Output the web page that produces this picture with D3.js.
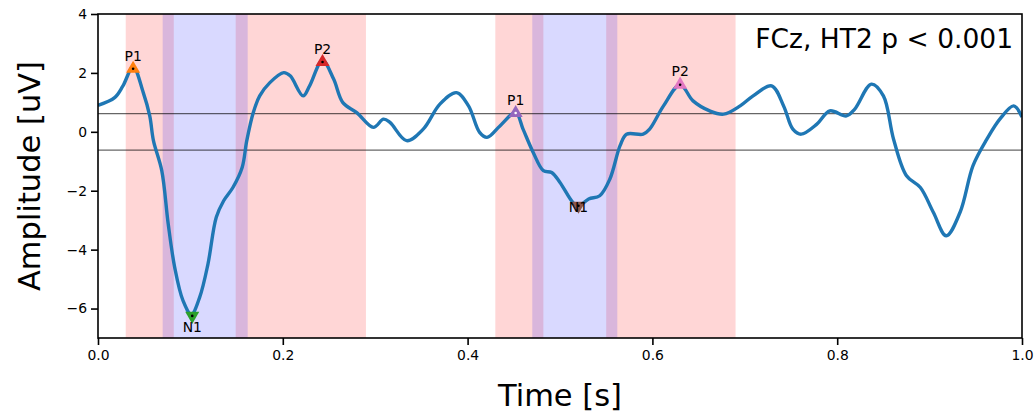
<!DOCTYPE html>
<html>
<head>
<meta charset="utf-8">
<script src="https://cdn.jsdelivr.net/npm/d3@7"></script>
<style>
  body { margin: 0; background: #fff; }
  svg text { font-family: "DejaVu Sans", sans-serif; }
</style>
</head>
<body>
<div id="chart"></div>
<script>
// ERP trace (time in s, amplitude in uV)
var times = [0.000, 0.018, 0.027, 0.038, 0.049, 0.056, 0.060, 0.069, 0.076, 0.083,
  0.092, 0.101, 0.110, 0.119, 0.128, 0.136, 0.146, 0.156, 0.161, 0.168,
  0.175, 0.186, 0.201, 0.208, 0.222, 0.229, 0.243, 0.255, 0.265, 0.280,
  0.298, 0.309, 0.316, 0.334, 0.352, 0.370, 0.388, 0.401, 0.413, 0.421,
  0.435, 0.452, 0.460, 0.471, 0.482, 0.491, 0.500, 0.514, 0.520, 0.531,
  0.543, 0.554, 0.565, 0.572, 0.590, 0.597, 0.612, 0.630, 0.644, 0.662,
  0.677, 0.695, 0.709, 0.729, 0.742, 0.752, 0.761, 0.778, 0.792, 0.810,
  0.819, 0.837, 0.850, 0.861, 0.875, 0.890, 0.904, 0.918, 0.933, 0.947,
  0.962, 0.976, 0.991, 1.000]
var amps = [0.90, 1.16, 1.56, 2.20, 1.33, 0.54, -0.30, -1.32, -3.13, -4.60,
  -5.73, -6.20, -5.62, -4.49, -2.90, -2.34, -1.89, -1.21, -0.30, 0.65,
  1.22, 1.67, 2.01, 1.90, 1.22, 1.56, 2.42, 1.79, 0.99, 0.65,
  0.15, 0.43, 0.32, -0.30, 0.09, 0.94, 1.33, 0.88, -0.02, -0.19,
  0.20, 0.65, 0.09, -0.70, -1.32, -1.38, -1.72, -2.40, -2.52, -2.28,
  -2.17, -1.60, -0.47, -0.08, -0.08, 0.09, 0.88, 1.60, 1.05, 0.71,
  0.60, 0.88, 1.22, 1.56, 0.88, 0.09, -0.08, 0.26, 0.71, 0.54,
  0.77, 1.62, 1.22, -0.25, -1.49, -1.89, -2.73, -3.53, -2.73, -1.15,
  -0.25, 0.43, 0.88, 0.50]

// search windows
var pWindows = [[0.030, 0.082], [0.149, 0.290], [0.430, 0.482], [0.550, 0.690]]
var nWindows = [[0.070, 0.162], [0.470, 0.562]]

// detected peaks
var peakNames = ['P1', 'N1', 'P2', 'P1', 'N1', 'P2']
var peakTimes = [0.038, 0.102, 0.243, 0.452, 0.520, 0.630]
var peakAmps = [2.14, -6.25, 2.37, 0.64, -2.51, 1.60]
var peakLabelAmps = [2.42, -6.62, 2.65, 0.92, -2.55, 1.88]
var peakColors = ['#ff7f0e', '#2ca02c', '#d62728', '#9467bd', '#8c564b', '#e377c2']

// threshold lines
var thresholds = [0.62, -0.62]

var xTicks = [0, 0.2, 0.4, 0.6, 0.8, 1.0]
var yTicks = [-6, -4, -2, 0, 2, 4]
var title = 'FCz, HT2 p < 0.001'

var width = 1034, height = 412
var margin = {top: 14, right: 12, bottom: 74, left: 98}
var w = width - margin.left - margin.right,
    h = height - margin.top - margin.bottom

var svg = d3.select('#chart').append('svg')
  .attr('width', width)
  .attr('height', height)

var g = svg.append('g')
  .attr('transform', 'translate(' + margin.left + ',' + margin.top + ')')

var x = d3.scaleLinear().domain([0, 1]).range([0, w])
var y = d3.scaleLinear().domain([-7, 4]).range([h, 0])

g.append('clipPath').attr('id', 'clip')
  .append('rect').attr('width', w).attr('height', h)

var plot = g.append('g').attr('clip-path', 'url(#clip)')

plot.selectAll('.pwin')
  .data(pWindows)
  .enter().append('rect')
  .attr('class', 'pwin')
  .attr('x', function(d) { return x(d[0]) })
  .attr('width', function(d) { return x(d[1]) - x(d[0]) })
  .attr('y', 0)
  .attr('height', h)
  .attr('fill', 'red')
  .attr('fill-opacity', 0.16)

plot.selectAll('.nwin')
  .data(nWindows)
  .enter().append('rect')
  .attr('class', 'nwin')
  .attr('x', function(d) { return x(d[0]) })
  .attr('width', function(d) { return x(d[1]) - x(d[0]) })
  .attr('y', 0)
  .attr('height', h)
  .attr('fill', 'blue')
  .attr('fill-opacity', 0.15)

plot.selectAll('.thr')
  .data(thresholds)
  .enter().append('line')
  .attr('class', 'thr')
  .attr('x1', 0).attr('x2', w)
  .attr('y1', function(d) { return y(d) })
  .attr('y2', function(d) { return y(d) })
  .attr('stroke', '#000')
  .attr('stroke-opacity', 0.6)
  .attr('stroke-width', 1.2)

var line = d3.line()
  .x(function(d, i) { return x(times[i]) })
  .y(function(d) { return y(d) })
  .curve(d3.curveCatmullRom.alpha(0.5))

plot.append('path')
  .datum(amps)
  .attr('d', line)
  .attr('fill', 'none')
  .attr('stroke', '#1f77b4')
  .attr('stroke-width', 3.4)
  .attr('stroke-linejoin', 'round')

// peak markers
var tri = d3.symbol().type(d3.symbolTriangle).size(85)
var peaks = g.selectAll('.peak')
  .data(peakNames)
  .enter().append('g')
  .attr('class', 'peak')
  .attr('transform', function(d, i) {
    return 'translate(' + x(peakTimes[i]) + ',' + y(peakAmps[i]) + ')'
  })

peaks.append('path')
  .attr('d', tri)
  .attr('transform', function(d) { return d[0] === 'N' ? 'rotate(180)' : null })
  .attr('fill', function(d, i) { return peakColors[i] })

peaks.append('circle')
  .attr('r', 1.3)
  .attr('fill', function(d, i) { return i === 3 ? '#fff' : '#000' })

g.selectAll('.plabel')
  .data(peakNames)
  .enter().append('text')
  .attr('class', 'plabel')
  .attr('x', function(d, i) { return x(peakTimes[i]) })
  .attr('y', function(d, i) { return y(peakLabelAmps[i]) })
  .attr('dy', function(d) { return d[0] === 'N' ? '0.35em' : '0em' })
  .attr('text-anchor', 'middle')
  .style('font-size', '13.9px')
  .text(function(d) { return d })

// axes
var xAxis = g.append('g')
  .attr('transform', 'translate(0,' + h + ')')
  .call(d3.axisBottom(x).tickValues(xTicks).tickFormat(d3.format('.1f')).tickSize(7).tickPadding(5))
var yAxis = g.append('g')
  .call(d3.axisLeft(y).tickValues(yTicks).tickFormat(function(d) { return d < 0 ? '\u2212' + Math.abs(d) : d }).tickSize(7).tickPadding(4))

;[xAxis, yAxis].forEach(function(a) {
  a.select('.domain').remove()
  a.selectAll('line').attr('stroke', '#000').attr('stroke-width', 1.6)
  a.selectAll('text').style('font-size', '13.9px').attr('fill', '#000')
    .style('font-family', '"DejaVu Sans", sans-serif')
})

g.append('rect')
  .attr('width', w).attr('height', h)
  .attr('fill', 'none')
  .attr('stroke', '#000')
  .attr('stroke-width', 1.6)

g.append('text')
  .attr('x', w - 9)
  .attr('y', 34)
  .attr('text-anchor', 'end')
  .style('font-size', '26.5px')
  .text(title)

svg.append('text')
  .attr('x', margin.left + w / 2)
  .attr('y', 406)
  .attr('text-anchor', 'middle')
  .style('font-size', '30.5px')
  .text('Time [s]')

svg.append('text')
  .attr('transform', 'translate(40,' + (margin.top + h / 2) + ') rotate(-90)')
  .attr('text-anchor', 'middle')
  .style('font-size', '30.5px')
  .text('Amplitude [uV]')
</script>
</body>
</html>
